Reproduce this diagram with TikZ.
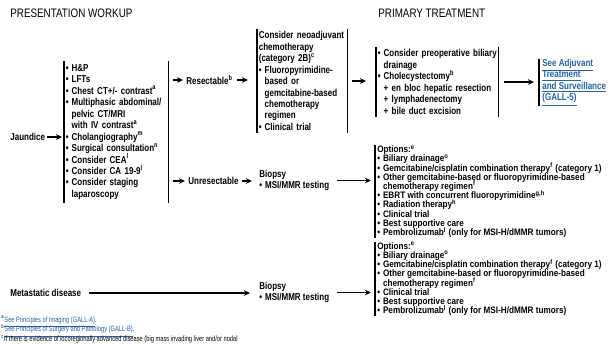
\documentclass[tikz,border=0pt]{standalone}
\usepackage{fontspec}
\setmainfont{Liberation Sans}[FakeStretch=0.8]
\newfontfamily\notefont{Liberation Sans}[FakeStretch=0.74]
\newfontfamily\optfont{Liberation Sans}[FakeStretch=0.87]
\usepackage{xcolor}
\usetikzlibrary{arrows.meta,positioning}
\definecolor{LinkBlue}{HTML}{2362A8}
\newcommand{\bul}{\textbullet\kern0.3em}
\newcommand{\ind}{\hphantom{\textbullet\kern0.3em}}
\newcommand{\fn}[1]{\textsuperscript{#1}}
\newcommand{\evenlines}{\lineskiplimit=-20pt\hyphenpenalty=10000\relax}
\tikzset{
  every node/.style={
    font=\fontsize{5.7}{6.52}\selectfont\bfseries\evenlines,
    inner sep=0pt
  },
  bar line/.style={draw=black, line width=0.6pt},
  left bar/.style={
    append after command={(\tikzlastnode.north west) edge[bar line] (\tikzlastnode.south west)}
  },
  two bars/.style={
    left bar,
    append after command={(\tikzlastnode.north east) edge[bar line] (\tikzlastnode.south east)}
  },
  list box/.style n args={2}{
    anchor=west,
    align=left,
    inner xsep=0.03cm,
    text width=#1,
    minimum height=#2
  },
  option box/.style={
    left bar,
    anchor=west,
    align=left,
    inner xsep=0.04cm,
    minimum height=#1,
    font=\optfont\fontsize{5.35}{5.25}\selectfont\bfseries\evenlines
  },
  step text/.style={anchor=west, align=left},
  heading/.style={anchor=west, font=\fontsize{7}{8}\selectfont},
  flow/.style={
    -{Stealth[length=3.5pt,width=3.2pt]},
    line width=0.6pt
  },
  link/.style={text=LinkBlue}
}

\begin{document}
\begin{tikzpicture}[x=0.02cm,y=-0.02cm]
  \useasboundingbox[fill=white] (0,0) rectangle (616,343);

  \node [heading] (hwork) at (10,13) {PRESENTATION WORKUP};
  \node [heading] (htreat) at (378,13) {PRIMARY TREATMENT};

  % workup column
  \node [step text] (jaund) at (10,137) {Jaundice};
  \node [list box={2.02cm}{2.84cm}, two bars] (wk) at (64,132) {
    \bul H\&P\\
    \bul LFTs\\
    \bul Chest CT+/- contrast\fn{a}\\
    \bul Multiphasic abdominal/\\
    \ind pelvic CT/MRI\\
    \ind with IV contrast\fn{a}\\
    \bul Cholangiography\fn{m}\\
    \bul Surgical consultation\fn{n}\\
    \bul Consider CEA\fn{l}\\
    \bul Consider CA 19-9\fn{l}\\
    \bul Consider staging\\
    \ind laparoscopy};
  \node [step text] (res) at (186,80) {Resectable\fn{b}};
  \node [step text] (unres) at (188,181) {Unresectable};

  % primary treatment
  \node [list box={1.74cm}{2.08cm}, two bars] (neo) at (257,81) {
    Consider neoadjuvant\\
    chemotherapy\\
    (category 2B)\fn{c}\\
    \bul Fluoropyrimidine-\\
    \ind based or\\
    \ind gemcitabine-based\\
    \ind chemotherapy\\
    \ind regimen\\
    \bul Clinical trial};
  \node [list box={2.38cm}{1.40cm}, two bars] (surg) at (376,82) {
    \bul Consider preoperative biliary\\
    \ind drainage\\
    \bul Cholecystectomy\fn{b}\\
    \ind + en bloc hepatic resection\\
    \ind + lymphadenectomy\\
    \ind + bile duct excision};
  \node [step text, left bar, link, inner xsep=0.06cm, minimum height=0.94cm] (adj) at (539,82.5) {
    \underline{See Adjuvant}\\
    \underline{Treatment}\\
    \underline{and Surveillance}\\
    \underline{(GALL-5)}};

  \node [step text] (biop1) at (259,180.5) {Biopsy\\\bul MSI/MMR testing};
  \node [option box=1.86cm] (opt1) at (375,191.5) {
    Options:\fn{e}\\
    \bul Biliary drainage\fn{o}\\
    \bul Gemcitabine/cisplatin combination therapy\fn{f} (category 1)\\
    \bul Other gemcitabine-based or fluoropyrimidine-based\\
    \ind chemotherapy regimen\fn{f}\\
    \bul EBRT with concurrent fluoropyrimidine\fn{g,h}\\
    \bul Radiation therapy\fn{h}\\
    \bul Clinical trial\\
    \bul Best supportive care\\
    \bul Pembrolizumab\fn{l} (only for MSI-H/dMMR tumors)};

  \node [step text] (meta) at (10,293) {Metastatic disease};
  \node [step text] (biop2) at (259,292.5) {Biopsy\\\bul MSI/MMR testing};
  \node [option box=1.44cm] (opt2) at (375,279) {
    Options:\fn{e}\\
    \bul Biliary drainage\fn{o}\\
    \bul Gemcitabine/cisplatin combination therapy\fn{f} (category 1)\\
    \bul Other gemcitabine-based or fluoropyrimidine-based\\
    \ind chemotherapy regimen\fn{f}\\
    \bul Clinical trial\\
    \bul Best supportive care\\
    \bul Pembrolizumab\fn{l} (only for MSI-H/dMMR tumors)};

  % footnotes
  \node [anchor=west, align=left, font=\notefont\fontsize{4.4}{5.6}\selectfont\evenlines] (notes) at (1,329.5) {
    \fn{a}{\color{LinkBlue}\underline{See Principles of Imaging (GALL-A)}}.\\
    \fn{b}{\color{LinkBlue}\underline{See Principles of Surgery and Pathology (GALL-B)}}.\\
    \fn{c}If there is evidence of locoregionally advanced disease (big mass invading liver and/or nodal};

  % connectors
  \draw [flow, shorten <=0.04cm, shorten >=0.04cm] (jaund) -- (jaund -| wk.west);
  \draw [flow, shorten <=0.08cm, shorten >=0.06cm] (wk.east |- res) -- (res);
  \draw [flow, shorten <=0.08cm, shorten >=0.18cm] (res) -- (res -| neo.west);
  \draw [flow, shorten <=0.08cm, shorten >=0.06cm] (wk.east |- unres) -- (unres);
  \draw [flow, shorten <=0.06cm, shorten >=0.14cm] (unres) -- (unres -| biop1.west);
  \draw [flow, shorten <=0.14cm, shorten >=0.08cm] (biop1) -- (biop1 -| opt1.west);
  \draw [flow, shorten <=0.08cm, shorten >=0.2cm] (neo) -- (neo -| surg.west);
  \draw [flow, shorten <=0.1cm, shorten >=0.1cm] (surg) -- (surg -| adj.west);
  \draw [flow, shorten <=0.14cm, shorten >=0.18cm] (meta) -- (meta -| biop2.west);
  \draw [flow, shorten <=0.14cm, shorten >=0.08cm] (biop2) -- (biop2 -| opt2.west);
\end{tikzpicture}
\end{document}
